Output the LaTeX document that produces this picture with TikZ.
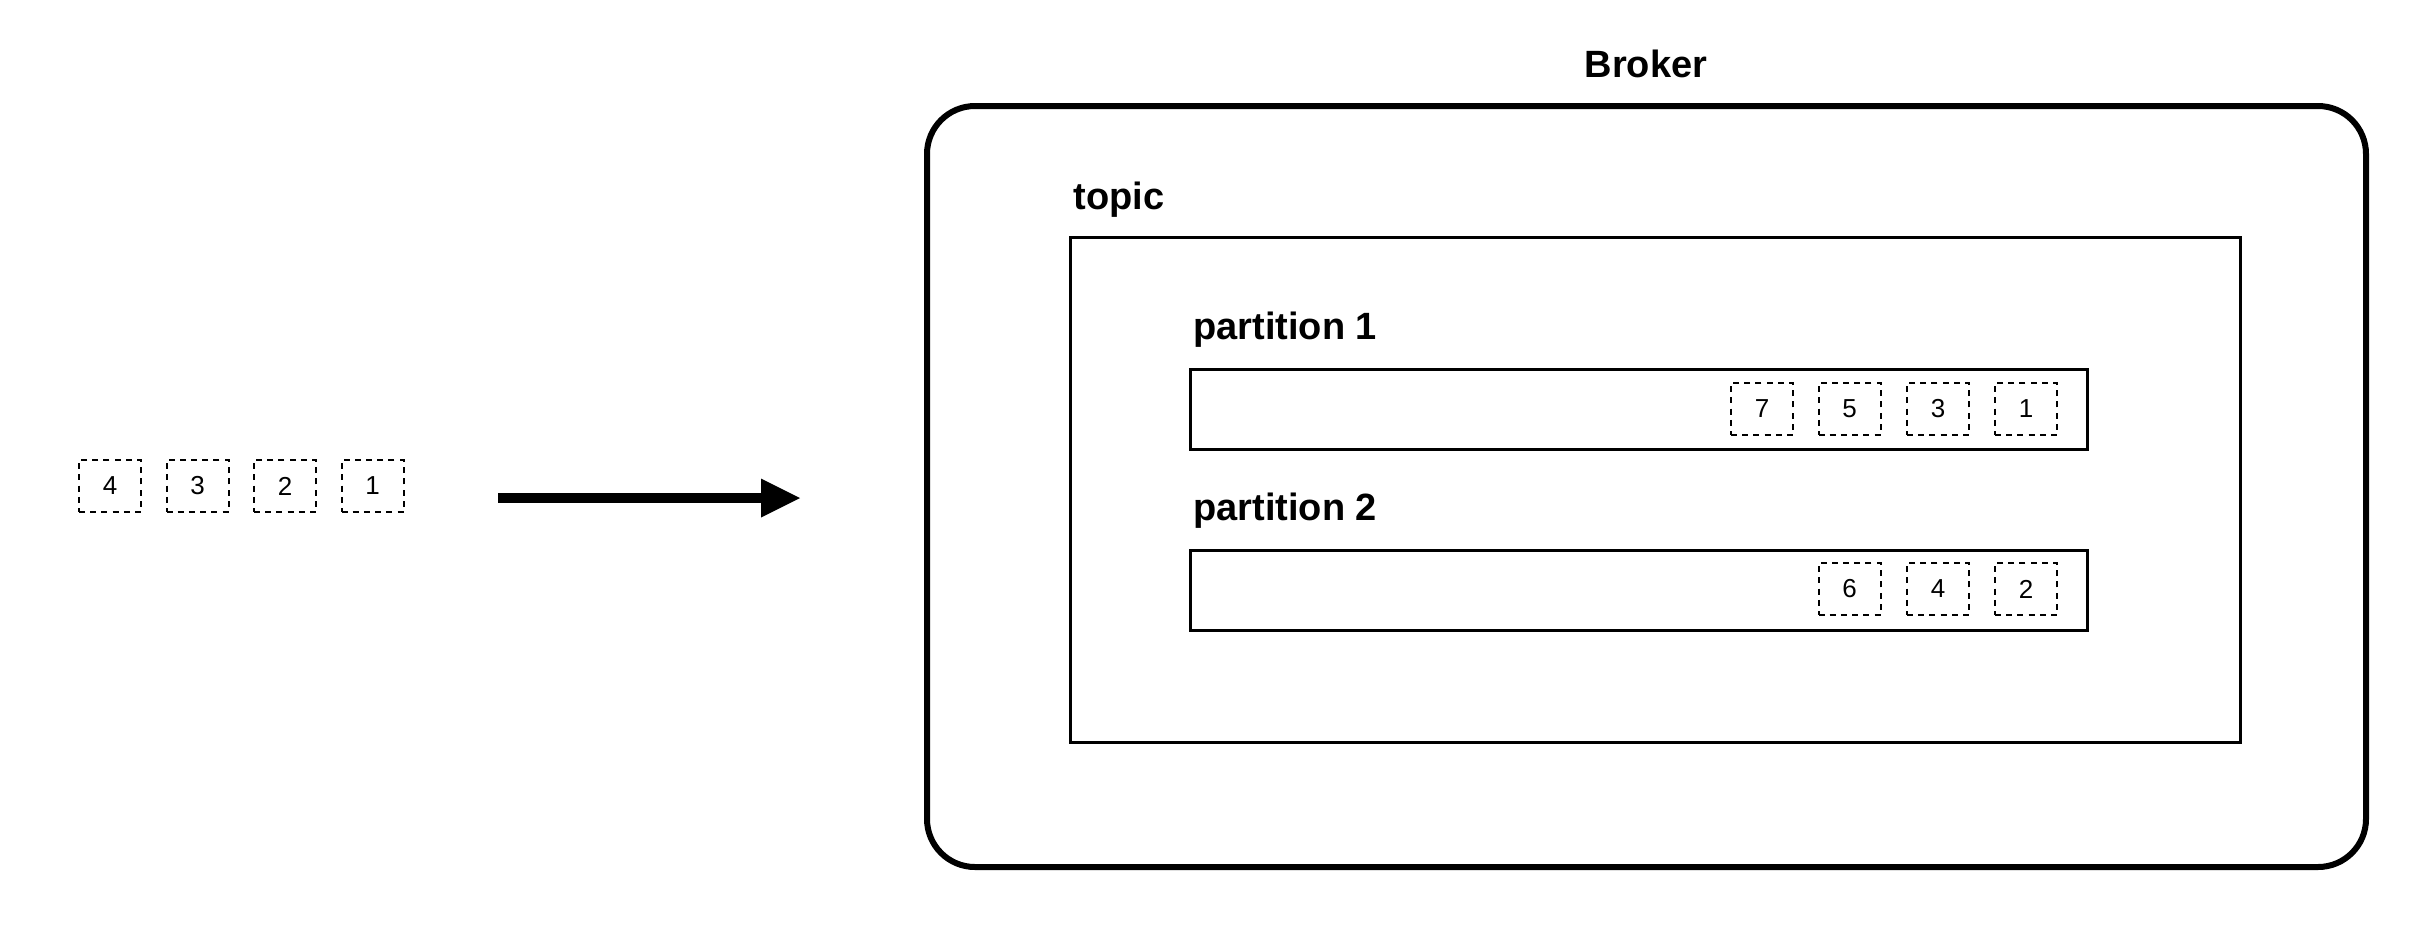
\documentclass[tikz,border=0pt]{standalone}
\usepackage{fontspec}
\setmainfont{Liberation Sans}
\usetikzlibrary{arrows.meta}
\begin{document}
\begin{tikzpicture}[x=0.5pt,y=-0.5pt,
  msg/.style={draw, dash pattern=on 3pt off 2.6pt, line width=1pt, minimum width=31pt, minimum height=26pt, inner sep=0pt, outer sep=0pt, font=\fontsize{13}{15}\selectfont},
  lbl/.style={font=\fontsize{19}{22}\selectfont\bfseries, inner sep=0pt, anchor=base west},
  frame/.style={draw, line width=1.5pt, anchor=north west, inner sep=0pt, outer sep=0pt}]
\useasboundingbox (0,0) rectangle (2410,950);
% incoming messages
\node[msg] (m4) at (110,486) {4};
\node[msg] (m3) at (197.5,486) {3};
\node[msg] (m2) at (285,486) {2};
\node[msg] (m1) at (372.5,486) {1};
% arrow
\coordinate (a0) at (498,498);
\coordinate (a1) at (800,498);
\draw[line width=5pt, -{Triangle[length=19.5pt,width=19.5pt,line width=0pt]}] (a0) -- (a1);
% broker
\node[font=\fontsize{19}{22}\selectfont\bfseries, inner sep=0pt, anchor=base] (brokerlbl) at (1646,77) {Broker};
\node[draw, line width=3pt, rounded corners=24pt, anchor=north west, minimum width=719.5pt, minimum height=380.5pt, inner sep=0pt, outer sep=0pt] (broker) at (927,106) {};
% topic
\node[lbl] (topiclbl) at (1073,209) {topic};
\node[frame, minimum width=585pt, minimum height=252.5pt] (topic) at (1070,237) {};
% partition 1
\node[lbl] (p1lbl) at (1193,339) {partition 1};
\node[frame, minimum width=448.5pt, minimum height=40pt] (p1) at (1190,369) {};
\node[msg] (p1m7) at (1762,409) {7};
\node[msg] (p1m5) at (1849.5,409) {5};
\node[msg] (p1m3) at (1938,409) {3};
\node[msg] (p1m1) at (2026,409) {1};
% partition 2
\node[lbl] (p2lbl) at (1193,520) {partition 2};
\node[frame, minimum width=448.5pt, minimum height=40pt] (p2) at (1190,550) {};
\node[msg] (p2m6) at (1849.5,589) {6};
\node[msg] (p2m4) at (1938,589) {4};
\node[msg] (p2m2) at (2026,589) {2};
\end{tikzpicture}
\end{document}
